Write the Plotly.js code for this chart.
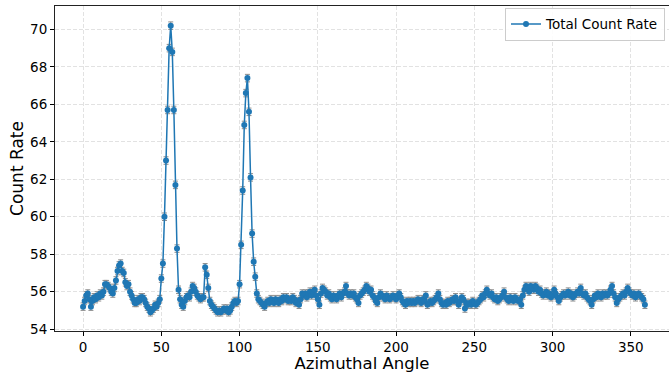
<!DOCTYPE html>
<html>
<head>
<meta charset="utf-8">
<script src="https://cdn.plot.ly/plotly-3.0.1.min.js"></script>
<style>html,body{margin:0;padding:0;background:#fff;}#chart{width:669px;height:373px;}</style>
</head>
<body>
<div id="chart"></div>
<script>
// Azimuthal angle starts at 0 and advances 1 degree per sample
const angleStart = 0;
const angleStep = 1;

// Count rate values, in blocks of 60 degrees
const rate000to059 = [
  55.2, 55.5, 55.8, 55.9, 55.6, 55.2, 55.5, 55.7, 55.6, 55.8,
  55.7, 55.9, 55.8, 56.0, 56.4, 56.4, 56.3, 56.2, 56.0, 55.9,
  56.2, 56.6, 57.1, 57.4, 57.5, 57.1, 57.0, 56.5, 56.3, 56.4,
  56.0, 55.8, 55.6, 55.4, 55.4, 55.6, 55.5, 55.7, 55.7, 55.6,
  55.4, 55.2, 55.1, 54.9, 55.0, 55.1, 55.3, 55.2, 55.4, 55.6,
  56.7, 57.5, 60.0, 63.0, 65.7, 69.0, 70.2, 68.8, 65.7, 61.7
];
const rate060to119 = [
  58.3, 56.1, 55.6, 55.3, 55.2, 55.5, 55.7, 55.8, 55.7, 56.0,
  56.3, 56.2, 56.0, 55.8, 55.7, 55.6, 55.7, 55.7, 57.3, 56.9,
  56.2, 55.5, 55.3, 55.2, 55.1, 55.0, 54.9, 55.0, 54.9, 55.0,
  55.1, 55.0, 55.1, 54.9, 55.0, 55.2, 55.4, 55.5, 55.4, 55.5,
  56.4, 58.5, 61.4, 64.9, 66.6, 67.4, 65.6, 62.1, 59.1, 57.6,
  56.8, 55.9, 55.6, 55.5, 55.4, 55.3, 55.2, 55.4, 55.5, 55.4
];
const rate120to179 = [
  55.6, 55.5, 55.4, 55.6, 55.5, 55.4, 55.6, 55.5, 55.7, 55.6,
  55.7, 55.5, 55.6, 55.5, 55.7, 55.6, 55.4, 55.5, 55.3, 55.6,
  55.9, 55.8, 55.9, 55.7, 55.9, 56.0, 55.8, 56.0, 56.1, 55.8,
  55.6, 55.3, 55.9, 56.2, 56.1, 56.0, 55.8, 55.9, 55.7, 55.6,
  55.8, 55.7, 55.6, 55.8, 55.9, 55.7, 55.9, 56.0, 56.3, 55.9,
  55.8, 55.9, 55.8, 55.9, 55.7, 55.6, 55.4, 55.8, 55.9, 56.0
];
const rate180to239 = [
  56.1, 56.3, 56.2, 56.0, 56.1, 55.8, 55.7, 55.5, 55.4, 55.7,
  55.9, 55.8, 55.7, 55.6, 55.8, 55.7, 55.6, 55.7, 55.8, 55.7,
  55.6, 55.8, 55.9, 55.7, 55.5, 55.4, 55.3, 55.5, 55.4, 55.5,
  55.4, 55.5, 55.4, 55.5, 55.6, 55.5, 55.4, 55.6, 55.5, 55.8,
  55.3, 55.4, 55.5, 55.4, 55.5, 55.6, 55.7, 55.9, 55.6, 55.4,
  55.3, 55.4, 55.3, 55.5, 55.4, 55.5, 55.6, 55.5, 55.7, 55.5
];
const rate240to299 = [
  55.3, 55.5, 55.7, 55.6, 55.1, 55.4, 55.3, 55.4, 55.3, 55.5,
  55.4, 55.3, 55.4, 55.5, 55.6, 55.8, 55.7, 55.9, 56.1, 55.9,
  55.8, 55.9, 55.7, 55.6, 55.7, 55.5, 55.6, 55.7, 55.8, 56.0,
  55.7, 55.6, 55.5, 55.7, 55.6, 55.5, 55.7, 55.6, 55.5, 55.6,
  55.3, 55.8, 56.1, 56.3, 56.2, 56.0, 56.3, 56.2, 56.1, 56.3,
  56.2, 56.0, 56.1, 55.9, 55.8, 55.9, 56.0, 55.8, 55.9, 55.7
];
const rate300to359 = [
  55.8, 56.1, 55.9, 55.7, 55.5, 55.7, 55.8, 55.9, 55.8, 55.9,
  56.0, 55.8, 55.9, 55.7, 55.8, 55.9, 56.0, 55.9, 56.2, 55.9,
  55.8, 55.9, 55.7, 55.6, 55.5, 55.3, 55.6, 55.8, 55.7, 55.9,
  55.8, 55.7, 55.9, 55.8, 55.9, 55.8, 55.9, 56.1, 56.3, 55.9,
  55.7, 55.4, 55.6, 55.7, 55.8, 55.9, 55.8, 56.0, 56.2, 56.0,
  55.9, 55.8, 55.9, 55.7, 55.8, 55.9, 55.8, 55.7, 55.6, 55.3
];
const countRate = [].concat(rate000to059, rate060to119, rate120to179,
                            rate180to239, rate240to299, rate300to359);

// Uncertainty on every count rate value
const countRateError = 0.2;

const yTickValues = [54, 56, 58, 60, 62, 64, 66, 68, 70];
const xTickValues = [0, 50, 100, 150, 200, 250, 300, 350];

const FONT = 'DejaVu Sans, Liberation Sans, sans-serif';

const trace = {
  type: 'scatter',
  mode: 'lines+markers',
  name: 'Total Count Rate',
  x0: angleStart,
  dx: angleStep,
  y: countRate,
  line: {color: '#1f77b4', width: 1.5},
  marker: {color: '#1f77b4', size: 6},
  error_y: {type: 'constant', value: countRateError, visible: true,
            color: '#8c8c8c', thickness: 1, width: 2.5}
};

const layout = {
  width: 669, height: 373,
  margin: {l: 55, r: 0, t: 6, b: 42},
  paper_bgcolor: '#ffffff',
  plot_bgcolor: '#ffffff',
  font: {family: FONT, size: 13.5, color: '#000'},
  showlegend: true,
  legend: {
    x: 0.9935, xanchor: 'right', y: 0.995, yanchor: 'top',
    bgcolor: 'rgba(255,255,255,0.9)', bordercolor: '#cccccc', borderwidth: 1,
    font: {family: FONT, size: 13.5, color: '#000'}
  },
  xaxis: {
    range: [-17.95, 374.4],
    tickvals: xTickValues,
    ticks: 'outside', ticklen: 4, tickcolor: '#000',
    showline: true, linecolor: '#222', linewidth: 1, mirror: true,
    showgrid: true, gridcolor: '#e2e2e2', griddash: '4px,2px', gridwidth: 1,
    zeroline: false,
    tickfont: {family: FONT, size: 13.5},
    title: {text: 'Azimuthal Angle', font: {family: FONT, size: 16.5}, standoff: 6}
  },
  yaxis: {
    range: [53.9, 71.25],
    tickvals: yTickValues,
    ticks: 'outside', ticklen: 4, tickcolor: '#000',
    showline: true, linecolor: '#222', linewidth: 1, mirror: false,
    showgrid: true, gridcolor: '#e2e2e2', griddash: '4px,2px', gridwidth: 1,
    zeroline: false,
    tickfont: {family: FONT, size: 13.5},
    title: {text: 'Count Rate', font: {family: FONT, size: 17}, standoff: 2}
  }
};

Plotly.newPlot('chart', [trace], layout, {staticPlot: true, displayModeBar: false});
</script>
</body>
</html>
